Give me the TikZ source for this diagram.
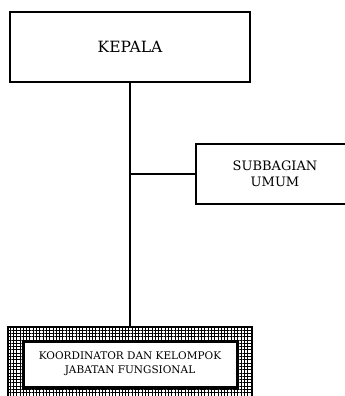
\documentclass[tikz,border=0pt]{standalone}
\usepackage{fontspec}
\setmainfont{DejaVu Serif}
\usetikzlibrary{patterns.meta}

\tikzset{
  unitbox/.style={draw, line width=2.2pt, fill=white, align=center, inner sep=2pt},
  link/.style={line width=2.6pt},
  hatchframe/.style={draw, line width=1.6pt,
    postaction={pattern={Lines[distance=3.3pt, line width=0.6pt, angle=0]}},
    postaction={pattern={Lines[distance=3.3pt, line width=0.6pt, angle=90]}}}
}

\begin{document}
\begin{tikzpicture}[x=1pt,y=1pt,yscale=-1,xscale=1]
  \useasboundingbox (0,0) rectangle (345,396);

  % Kepala
  \node [unitbox, minimum width=240, minimum height=70, font=\fontsize{15.5}{18}\selectfont] (kepala) at (130,47) {KEPALA};
  % Subbagian Umum
  \node [unitbox, minimum width=158, minimum height=60, font=\fontsize{13}{15.5}\selectfont] (umum) at (275,174) {SUBBAGIAN\\UMUM};
  % Kelompok fungsional (hatched frame)
  \node [hatchframe, minimum width=244, minimum height=80] (fungsi) at (130,367) {};
  \node [unitbox, line width=3pt, minimum width=214, minimum height=46, font=\fontsize{10.5}{14}\selectfont] (koord) at (130,364) {KOORDINATOR DAN KELOMPOK\\JABATAN FUNGSIONAL};

  % Lines
  \draw [link] (kepala.south) -- (fungsi.north);
  \draw [link] (kepala.south |- umum.west) -- (umum.west);
\end{tikzpicture}
\end{document}
